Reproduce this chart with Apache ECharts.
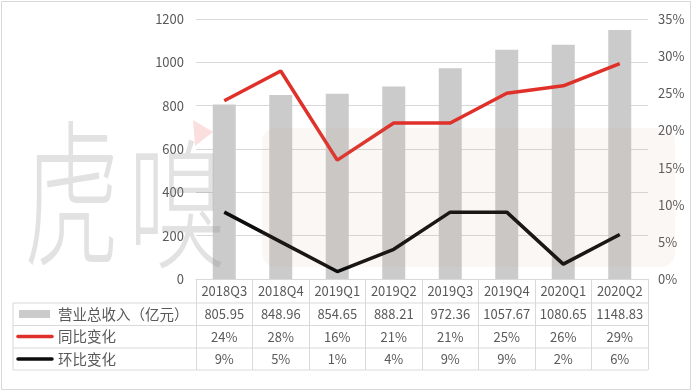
<!DOCTYPE html>
<html><head><meta charset="utf-8">
<script src="https://cdn.jsdelivr.net/npm/echarts@6/dist/echarts.min.js"></script>
<style>html,body{margin:0;padding:0;background:#fff}#c{width:693px;height:391px}</style>
</head><body><div id="c"></div>
<script>
const categories = ['2018Q3','2018Q4','2019Q1','2019Q2','2019Q3','2019Q4','2020Q1','2020Q2'];
const revenue = [805.95, 848.96, 854.65, 888.21, 972.36, 1057.67, 1080.65, 1148.83];
const yoy = [24, 28, 16, 21, 21, 25, 26, 29];
const qoq = [9, 5, 1, 4, 9, 9, 2, 6];
const seriesNames = ['营业总收入（亿元）', '同比变化', '环比变化'];
const watermark = ['虎', '嗅'];

const FONT = "'Microsoft YaHei','Noto Sans CJK SC',sans-serif";
const TXT = '#595959';
const GL = '#d9d9d9';
const gridL = 196, gridR = 648, gridT = 19, gridB = 279;
const tblL = 13, rowY = [303, 325.5, 348, 370];

const chart = echarts.init(document.getElementById('c'), null, {renderer: 'canvas'});

const graphics = [
  {type: 'rect', shape: {x: 1.5, y: 1.5, width: 689, height: 388}, style: {fill: 'none', stroke: GL, lineWidth: 1}, silent: true, z: 0},
];
rowY.forEach(y => graphics.push({type: 'line', shape: {x1: tblL, y1: y, x2: gridR, y2: y}, style: {stroke: GL, lineWidth: 1}, z: 5}));
graphics.push({type: 'line', shape: {x1: tblL, y1: rowY[0], x2: tblL, y2: rowY[3]}, style: {stroke: GL, lineWidth: 1}, z: 5});
graphics.push({type: 'rect', shape: {x: 19, y: 310, width: 31, height: 8}, style: {fill: '#cbcbcb'}, z: 5});
graphics.push({type: 'line', shape: {x1: 18, y1: 336.5, x2: 52, y2: 336.5}, style: {stroke: '#e0302a', lineWidth: 3.5, lineCap: 'round'}, z: 5});
graphics.push({type: 'line', shape: {x1: 18, y1: 359, x2: 52, y2: 359}, style: {stroke: '#0d0d0d', lineWidth: 3.5, lineCap: 'round'}, z: 5});
[314, 336.5, 359].forEach((y, i) => graphics.push({type: 'text', x: 58, y: y, style: {text: seriesNames[i], fill: TXT, font: '14.5px ' + FONT, verticalAlign: 'middle', align: 'left'}, z: 5}));
// watermark
graphics.push({type: 'rect', shape: {x: 262, y: 128, width: 413, height: 139, r: 14}, style: {fill: 'rgba(190,150,120,0.08)'}, silent: true, z: 20});
graphics.push({type: 'text', x: 24, y: 193, scaleX: 0.64, scaleY: 1.05, style: {text: watermark[0], fill: 'rgba(140,140,140,0.25)', font: '300 150px ' + FONT, verticalAlign: 'middle'}, silent: true, z: 20});
graphics.push({type: 'text', x: 128, y: 204, scaleX: 0.7, style: {text: watermark[1], fill: 'rgba(140,140,140,0.25)', font: '300 140px ' + FONT, verticalAlign: 'middle'}, silent: true, z: 20});
graphics.push({type: 'polygon', shape: {points: [[193, 120], [213, 132], [195, 146]]}, style: {fill: 'rgba(240,140,140,0.28)'}, silent: true, z: 20});

chart.setOption({
  animation: false,
  backgroundColor: '#fff',
  grid: {left: gridL, right: 693 - gridR, top: gridT, bottom: 391 - gridB, containLabel: false},
  xAxis: {
    type: 'category', data: categories, boundaryGap: true,
    axisLine: {show: true, lineStyle: {color: GL, width: 1}},
    axisTick: {show: true, length: 91, alignWithLabel: false, lineStyle: {color: GL}},
    axisLabel: {
      margin: 0, interval: 0,
      formatter: (v, i) => `{h|${v}}\n{v|${revenue[i].toFixed(2)}}\n{v|${yoy[i]}%}\n{v|${qoq[i]}%}`,
      rich: {
        h: {fontSize: 13, fontFamily: FONT, color: TXT, lineHeight: 24, align: 'center'},
        v: {fontSize: 13, fontFamily: FONT, color: TXT, lineHeight: 22.4, align: 'center'}
      }
    }
  },
  yAxis: [
    {type: 'value', min: 0, max: 1200, interval: 200,
     axisLine: {show: false}, axisTick: {show: false},
     axisLabel: {color: TXT, fontSize: 13, fontFamily: FONT, margin: 12, formatter: v => String(v)},
     splitLine: {lineStyle: {color: GL, width: 1}}},
    {type: 'value', min: 0, max: 35, interval: 5, position: 'right',
     axisLine: {show: false}, axisTick: {show: false},
     axisLabel: {color: TXT, fontSize: 13, fontFamily: FONT, margin: 10, formatter: '{value}%'},
     splitLine: {show: false}}
  ],
  series: [
    {name: seriesNames[0], type: 'bar', data: revenue, barWidth: 23, itemStyle: {color: '#cbcbcb'}, yAxisIndex: 0, z: 2},
    {name: seriesNames[1], type: 'line', data: yoy, yAxisIndex: 1, symbol: 'none', lineStyle: {color: '#e0302a', width: 3.5}, itemStyle: {color: '#e0302a'}, z: 3},
    {name: seriesNames[2], type: 'line', data: qoq, yAxisIndex: 1, symbol: 'none', lineStyle: {color: '#0d0d0d', width: 3.5}, itemStyle: {color: '#0d0d0d'}, z: 3}
  ],
  graphic: graphics
});
</script></body></html>
